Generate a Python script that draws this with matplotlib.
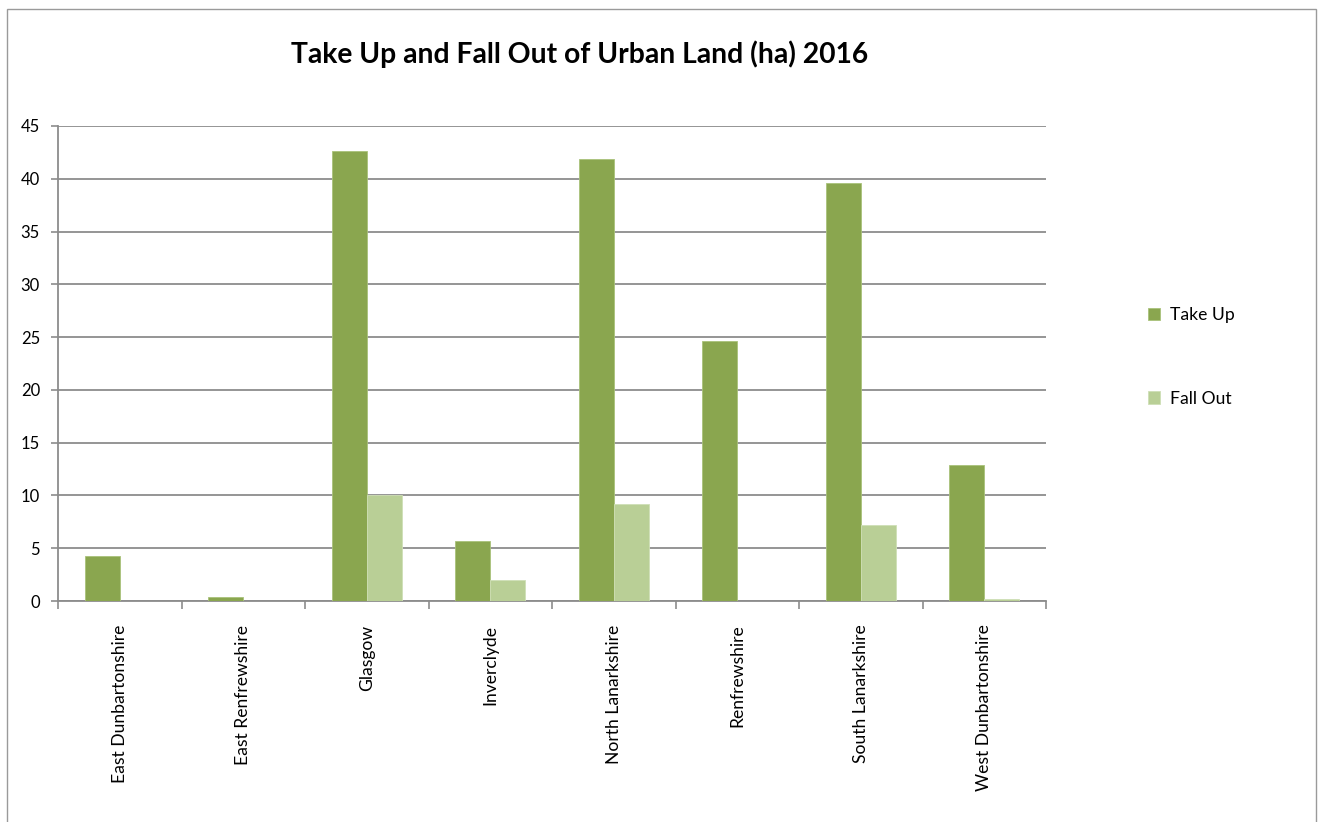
import numpy as np
import matplotlib.pyplot as plt
from matplotlib.patches import Rectangle

# — DATA —
AREAS = ["East Dunbartonshire", "East Renfrewshire", "Glasgow", "Inverclyde",
         "North Lanarkshire", "Renfrewshire", "South Lanarkshire", "West Dunbartonshire"]
TAKE_UP  = [4.3, 0.4, 42.6, 5.7, 41.9, 24.6, 39.6, 12.9]
FALL_OUT = [0.0, 0.0, 10.0, 2.0, 9.2, 0.0, 7.2, 0.2]
Y_TICKS  = [0, 5, 10, 15, 20, 25, 30, 35, 40, 45]

TAKE_COLOR = "#8AA64F"
FALL_COLOR = "#B9CF96"
GRID_COLOR = "#8C8C8C"
FONT = ["Lato", "DejaVu Sans"]

plt.rcParams['font.family'] = FONT

W, H = 1323, 822
fig = plt.figure(figsize=(W / 100, H / 100), dpi=100)
fig.patch.set_facecolor("white")

# chart border
fig.patches.append(Rectangle((7 / W, -0.05), (1316 - 7) / W, 1.05 - 9 / H,
                             transform=fig.transFigure, fill=False,
                             edgecolor="#9A9A9A", linewidth=1.0))

ax = fig.add_axes([58 / W, 1 - 601 / H, (1046 - 58) / W, (601 - 126) / H])

x = np.arange(len(AREAS))
bw = 0.285
b1 = ax.bar(x + 0.5 - bw / 2, TAKE_UP, bw, color=TAKE_COLOR, label="Take Up",
            edgecolor="#A9C27A", linewidth=0.6, zorder=3)
b2 = ax.bar(x + 0.5 + bw / 2, FALL_OUT, bw, color=FALL_COLOR, label="Fall Out",
            edgecolor="#CFDFB6", linewidth=0.6, zorder=3)

ax.set_xlim(0, len(AREAS))
ax.set_ylim(0, 45)
ax.set_yticks(Y_TICKS)
ax.set_yticklabels([str(v) for v in Y_TICKS], fontsize=12)
ax.yaxis.grid(True, color=GRID_COLOR, linewidth=1.3, zorder=0)
ax.set_axisbelow(True)

# category boundaries get the tick marks, names sit between them
ax.set_xticks(np.arange(len(AREAS) + 1))
ax.set_xticklabels([])
ax.set_xticks(x + 0.5, minor=True)
ax.set_xticklabels(AREAS, minor=True, rotation=90, fontsize=12.6, va="top", ha="center")
ax.tick_params(axis="x", which="minor", length=0, pad=17)
ax.tick_params(axis="x", which="major", length=6, color=GRID_COLOR, width=1.2)
ax.tick_params(axis="y", length=5, color=GRID_COLOR, width=1.2, pad=8)

for side in ("top", "right"):
    ax.spines[side].set_visible(False)
for side in ("left", "bottom"):
    ax.spines[side].set_color(GRID_COLOR)
    ax.spines[side].set_linewidth(1.3)

fig.text(580 / W, 1 - 54 / H, "Take Up and Fall Out of Urban Land (ha) 2016",
         ha="center", va="center", fontsize=20.3, fontweight="bold")

fig.legend(handles=[b1, b2], loc="center left",
           bbox_to_anchor=(1132 / W, 1 - 357 / H), frameon=False,
           fontsize=12.6, handlelength=0.7, handleheight=0.7,
           handletextpad=0.55, labelspacing=3.85)

fig.savefig("out.png", dpi=100)
